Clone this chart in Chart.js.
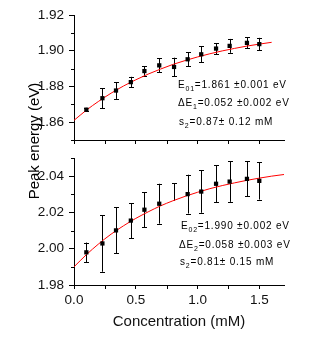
<!DOCTYPE html>
<html>
<head>
<meta charset="utf-8">
<script src="https://cdn.jsdelivr.net/npm/chart.js@4"></script>
<style>
html, body { margin: 0; padding: 0; background: #fff; }
#wrap { position: relative; width: 323px; height: 349px; }
#wrap canvas { position: absolute; left: 0; top: 0; }
</style>
</head>
<body>
<div id="wrap">
  <canvas id="topChart" width="323" height="349"></canvas>
  <canvas id="bottomChart" width="323" height="349"></canvas>
</div>
<script>
// dados
const conc = [0.10, 0.23, 0.34, 0.46, 0.57, 0.69, 0.81, 0.92, 1.03, 1.15, 1.26, 1.40, 1.50];

const peak1 = [1.8670, 1.8734, 1.8777, 1.8824, 1.8886, 1.8918, 1.8909, 1.8952, 1.8980, 1.9012, 1.9027, 1.9044, 1.9037];
const err1 = [0.0010, 0.0056, 0.0047, 0.0030, 0.0028, 0.0039, 0.0052, 0.0038, 0.0044, 0.0031, 0.0039, 0.0031, 0.0035];

const peak2 = [1.9980, 2.0029, 2.0101, 2.0155, 2.0215, 2.0248, 2.0264, 2.0301, 2.0315, 2.0358, 2.0370, 2.0385, 2.0374];
const err2Up = [0.0054, 0.0156, 0.0127, 0.0096, 0.0097, 0.0110, 0.0096, 0.0107, 0.0117, 0.0103, 0.0112, 0.0096, 0.0103];
const err2Down = [0.0054, 0.0156, 0.0127, 0.0096, 0.0097, 0.0110, 0, 0.0107, 0.0117, 0.0103, 0.0112, 0.0096, 0.0103];
const noMarker2 = [6];

// curvas de ajuste (vermelho)
const fitConc1 = [0, 0.1, 0.2, 0.3, 0.4, 0.5, 0.6, 0.7, 0.8, 0.9, 1.0, 1.1, 1.2, 1.3, 1.4, 1.5, 1.6];
const fit1 = [1.8610, 1.8667, 1.8717, 1.8762, 1.8802, 1.8837, 1.8869, 1.8897, 1.8923, 1.8945, 1.8965, 1.8983, 1.8999, 1.9013, 1.9026, 1.9037, 1.9047];
const fitConc2 = [0, 0.1, 0.2, 0.3, 0.4, 0.5, 0.6, 0.7, 0.8, 0.9, 1.0, 1.1, 1.2, 1.3, 1.4, 1.5, 1.6, 1.7];
const fit2 = [1.9900, 1.9967, 2.0027, 2.0080, 2.0126, 2.0167, 2.0203, 2.0236, 2.0264, 2.0289, 2.0311, 2.0331, 2.0348, 2.0363, 2.0377, 2.0389, 2.0400, 2.0409];

// eixos
const xTicks = [0, 0.5, 1.0, 1.5];
const xMinor = [0.25, 0.75, 1.25];
const yTicks1 = [1.86, 1.88, 1.90, 1.92];
const yMinor1 = [1.85, 1.87, 1.89, 1.91];
const yTicks2 = [1.98, 2.00, 2.02, 2.04];
const yMinor2 = [1.99, 2.01, 2.03, 2.05];

// textos
const notes1 = [['E', '01', '=1.861 ±0.001 eV'], ['ΔE', '1', '=0.052 ±0.002 eV'], ['s', '2', '=0.87± 0.12 mM']];
const notes2 = [['E', '02', '=1.990 ±0.002 eV'], ['ΔE', '2', '=0.058 ±0.003 eV'], ['s', '2', '=0.81± 0.15 mM']];
const yTitle = 'Peak energy (eV)';
const xTitle = 'Concentration (mM)';

const FONT = '"Liberation Sans", Arial, sans-serif';
Chart.defaults.font.family = FONT;
Chart.defaults.color = '#000';

// barras de erro
const errorBars = {
    id: 'errorBars',
    beforeDatasetsDraw(chart) {
        const ctx = chart.ctx;
        const xs = chart.scales.x, ys = chart.scales.y;
        chart.data.datasets.forEach(ds => {
            if (!ds.errUp) return;
            ctx.save();
            ctx.strokeStyle = '#000';
            ctx.lineWidth = 1;
            ds.data.forEach((p, i) => {
                const x = Math.round(xs.getPixelForValue(p.x)) + 0.5;
                const y1 = ys.getPixelForValue(p.y + ds.errUp[i]);
                const y2 = ys.getPixelForValue(p.y - ds.errDown[i]);
                ctx.beginPath();
                ctx.moveTo(x, y1);
                ctx.lineTo(x, y2);
                if (ds.errUp[i] > 0) { ctx.moveTo(x - 2.5, Math.round(y1) + 0.5); ctx.lineTo(x + 2.5, Math.round(y1) + 0.5); }
                if (ds.errDown[i] > 0) { ctx.moveTo(x - 2.5, Math.round(y2) + 0.5); ctx.lineTo(x + 2.5, Math.round(y2) + 0.5); }
                ctx.stroke();
            });
            ctx.restore();
        });
    }
};

// ticks menores e textos
const extras = {
    id: 'extras',
    afterDraw(chart, args, opts) {
        const ctx = chart.ctx;
        const xs = chart.scales.x, ys = chart.scales.y;
        const area = chart.chartArea;
        ctx.save();
        ctx.strokeStyle = '#000';
        ctx.lineWidth = 1;
        ctx.beginPath();
        opts.yMinor.forEach(v => {
            const y = Math.round(ys.getPixelForValue(v)) + 0.5;
            ctx.moveTo(area.left - 3, y);
            ctx.lineTo(area.left, y);
        });
        xMinor.forEach(v => {
            const x = Math.round(xs.getPixelForValue(v)) + 0.5;
            ctx.moveTo(x, area.bottom);
            ctx.lineTo(x, area.bottom + 4);
        });
        ctx.stroke();

        ctx.fillStyle = '#000';
        ctx.textBaseline = 'alphabetic';
        ctx.textAlign = 'left';
        if ('letterSpacing' in ctx) ctx.letterSpacing = '0.8px';
        opts.notes.forEach((n, i) => {
            let x = opts.at[i][0];
            const y = opts.at[i][1];
            ctx.font = '10px ' + FONT;
            ctx.fillText(n[0], x, y);
            x += ctx.measureText(n[0]).width;
            ctx.font = '7px ' + FONT;
            ctx.fillText(n[1], x, y + 3);
            x += ctx.measureText(n[1]).width;
            ctx.font = '10px ' + FONT;
            ctx.fillText(n[2], x, y);
        });
        if ('letterSpacing' in ctx) ctx.letterSpacing = '0px';

        if (opts.yTitle) {
            ctx.translate(35, 141);
            ctx.rotate(-Math.PI / 2);
            ctx.textAlign = 'center';
            ctx.textBaseline = 'middle';
            ctx.font = '15px ' + FONT;
            ctx.fillText(opts.yTitle, 0, 0);
        }
        ctx.restore();
    }
};

function makePanel(id, cfg) {
    const pts = conc.map((c, i) => ({ x: c, y: cfg.values[i] }));
    const fit = cfg.fitX.map((c, i) => ({ x: c, y: cfg.fitY[i] }));
    return new Chart(document.getElementById(id), {
        type: 'scatter',
        data: {
            datasets: [{
                data: pts,
                errUp: cfg.errUp,
                errDown: cfg.errDown,
                pointStyle: 'rect',
                pointRadius: c => cfg.noMarker.includes(c.dataIndex) ? 0 : 3,
                backgroundColor: '#000',
                borderColor: '#000',
                borderWidth: 0
            }, {
                data: fit,
                showLine: true,
                pointRadius: 0,
                borderColor: '#ff0000',
                borderWidth: 1,
                cubicInterpolationMode: 'monotone'
            }]
        },
        options: {
            responsive: false,
            animation: false,
            devicePixelRatio: 1,
            layout: { padding: cfg.padding },
            plugins: {
                legend: { display: false },
                tooltip: { enabled: false },
                extras: { yMinor: cfg.yMinor, notes: cfg.notes, at: cfg.at, yTitle: cfg.yTitle }
            },
            scales: {
                x: {
                    type: 'linear',
                    min: 0,
                    max: 1.7,
                    afterBuildTicks: s => { s.ticks = xTicks.map(v => ({ value: v })); },
                    afterFit: s => { s.height = cfg.xHeight; },
                    grid: { drawOnChartArea: false, tickLength: 4, tickColor: '#000' },
                    border: { color: '#000', width: 1 },
                    ticks: { display: cfg.xLabels, padding: 3, font: { size: 13.5 }, color: '#111', maxRotation: 0,
                             callback: v => v.toFixed(1) },
                    title: { display: cfg.xLabels, text: xTitle, font: { size: 15 }, color: '#111', padding: 0 }
                },
                y: {
                    min: cfg.yMin,
                    max: cfg.yMax,
                    afterBuildTicks: s => { s.ticks = cfg.yTicks.map(v => ({ value: v })); },
                    afterFit: s => { s.width = 74; },
                    grid: { drawOnChartArea: false, tickLength: 5, tickColor: '#000' },
                    border: { color: '#000', width: 1 },
                    ticks: { padding: 5, font: { size: 13.5 }, color: '#111', callback: v => v.toFixed(2) }
                }
            }
        },
        plugins: [errorBars, extras]
    });
}

document.addEventListener('DOMContentLoaded', function() {
    // painel de cima
    makePanel('topChart', {
        values: peak1, errUp: err1, errDown: err1, noMarker: [],
        fitX: fitConc1, fitY: fit1,
        yMin: 1.85, yMax: 1.92, yTicks: yTicks1, yMinor: yMinor1,
        xLabels: false, xHeight: 10,
        padding: { left: 0, right: 39, top: 15, bottom: 199 },
        notes: notes1, at: [[178, 87.5], [178, 106], [179, 125]],
        yTitle: yTitle
    });
    // painel de baixo
    makePanel('bottomChart', {
        values: peak2, errUp: err2Up, errDown: err2Down, noMarker: noMarker2,
        fitX: fitConc2, fitY: fit2,
        yMin: 1.98, yMax: 2.05, yTicks: yTicks2, yMinor: yMinor2,
        xLabels: true, xHeight: 46,
        padding: { left: 0, right: 39, top: 158, bottom: 18 },
        notes: notes2, at: [[181, 229], [179, 247.5], [180, 265]],
        yTitle: null
    });
});
</script>
</body>
</html>
